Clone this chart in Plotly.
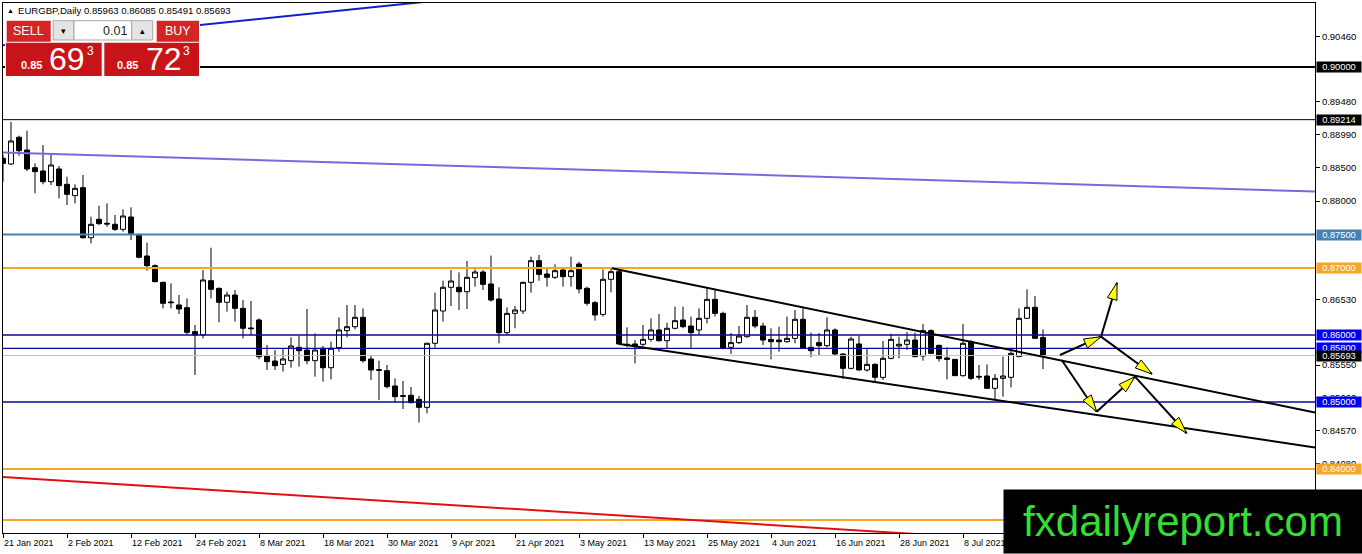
import math
import plotly.graph_objects as go

# ---------------- data ----------------
opens = [0.88637,0.88552,0.88951,0.88761,0.88497,0.88448,0.88288,0.88478,0.88249,0.88080,
         0.88199,0.87452,0.87727,0.87667,0.87652,0.87577,0.87761,0.87492,0.87179,0.87035,
         0.86786,0.86493,0.86448,0.86408,0.86050,0.86000,0.86811,0.86697,0.86488,0.86597,
         0.86398,0.86105,0.86224,0.85687,0.85612,0.85562,0.85617,0.85816,0.85776,0.85617,
         0.85801,0.85512,0.85811,0.86065,0.86124,0.86264,0.85642,0.85483,0.85468,0.85239,
         0.85095,0.85100,0.85040,0.84920,0.85876,0.86358,0.86712,0.86712,0.86646,0.86856,
         0.86940,0.86761,0.86537,0.86035,0.86323,0.86358,0.86786,0.87109,0.86910,0.86861,
         0.86970,0.86871,0.87060,0.86697,0.86483,0.86308,0.86831,0.86945,0.85861,0.85866,
         0.85861,0.85935,0.86075,0.85915,0.86100,0.86224,0.86134,0.86075,0.86249,0.86532,
         0.86323,0.85816,0.85886,0.85975,0.86264,0.86134,0.85935,0.85925,0.85900,0.85950,
         0.86234,0.85816,0.85886,0.85841,0.86075,0.85716,0.85502,0.85866,0.85478,0.85562,
         0.85368,0.85652,0.85836,0.85861,0.85925,0.85687,0.86065,0.85846,0.85657,0.85637,
         0.85393,0.85900,0.85383,0.85388,0.85204,0.85353,0.85368,0.85677,0.86249,0.86413,
         0.85963]
highs = [0.88690,0.89180,0.88975,0.89049,0.88562,0.88836,0.88697,0.88522,0.88363,0.88249,
         0.88388,0.87766,0.87930,0.87965,0.87791,0.87876,0.87905,0.87517,0.87378,0.87055,
         0.86796,0.86771,0.86597,0.86547,0.86149,0.86970,0.87303,0.86707,0.86646,0.86672,
         0.86522,0.86507,0.86249,0.85850,0.85776,0.85801,0.85965,0.85990,0.86388,0.86025,
         0.85836,0.85901,0.86264,0.86448,0.86448,0.86398,0.85701,0.85617,0.85552,0.85353,
         0.85313,0.85224,0.85090,0.85886,0.86632,0.86810,0.86970,0.86935,0.87104,0.86980,
         0.86970,0.87184,0.86712,0.86413,0.86433,0.86796,0.87169,0.87194,0.87005,0.87055,
         0.87005,0.87169,0.87094,0.86721,0.86507,0.86980,0.87005,0.86980,0.86114,0.85925,
         0.86149,0.86249,0.86313,0.86184,0.86423,0.86423,0.86274,0.86398,0.86697,0.86672,
         0.86348,0.86030,0.86134,0.86448,0.86373,0.86184,0.86100,0.86124,0.86274,0.86373,
         0.86398,0.86035,0.86030,0.86264,0.86100,0.85726,0.85975,0.85990,0.85796,0.85577,
         0.85910,0.86020,0.85975,0.86045,0.86035,0.86164,0.86085,0.85856,0.85816,0.85642,
         0.86164,0.85925,0.85552,0.85562,0.85418,0.85677,0.85801,0.86398,0.86682,0.86582,
         0.86085]
lows = [0.88288,0.88537,0.88676,0.88448,0.88115,0.88249,0.88239,0.88040,0.87940,0.87965,
        0.87440,0.87368,0.87642,0.87617,0.87552,0.87542,0.87418,0.87144,0.86960,0.86786,
        0.86398,0.86398,0.86313,0.86010,0.85403,0.85950,0.86547,0.86189,0.86348,0.86199,
        0.85950,0.86000,0.85637,0.85478,0.85478,0.85453,0.85512,0.85527,0.85562,0.85378,
        0.85303,0.85338,0.85751,0.85965,0.86085,0.85587,0.85328,0.85030,0.85204,0.84990,
        0.84896,0.84980,0.84692,0.84831,0.85811,0.86199,0.86433,0.86373,0.86388,0.86721,
        0.86672,0.86497,0.85876,0.86000,0.86100,0.86313,0.86632,0.86810,0.86721,0.86836,
        0.86721,0.86721,0.86622,0.86438,0.86214,0.86274,0.86637,0.85850,0.85816,0.85577,
        0.85826,0.85901,0.85901,0.85801,0.86085,0.86100,0.85801,0.86000,0.86174,0.86274,
        0.85786,0.85716,0.85866,0.85960,0.86100,0.85851,0.85637,0.85751,0.85886,0.85876,
        0.85791,0.85667,0.85701,0.85816,0.85701,0.85343,0.85488,0.85468,0.85453,0.85303,
        0.85328,0.85637,0.85652,0.85776,0.85667,0.85617,0.85716,0.85602,0.85338,0.85388,
        0.85378,0.85328,0.85328,0.85194,0.85030,0.85080,0.85219,0.85667,0.86239,0.85940,
        0.85491]
closes = [0.88562,0.88896,0.88751,0.88478,0.88438,0.88288,0.88537,0.88229,0.88100,0.88189,
          0.87452,0.87652,0.87662,0.87657,0.87577,0.87776,0.87517,0.87160,0.87035,0.86796,
          0.86473,0.86483,0.86388,0.86040,0.86000,0.86821,0.86682,0.86488,0.86597,0.86398,
          0.86100,0.86095,0.85676,0.85602,0.85542,0.85642,0.85836,0.85766,0.85617,0.85776,
          0.85512,0.85801,0.86075,0.86124,0.86264,0.85617,0.85478,0.85473,0.85229,0.85080,
          0.85085,0.84990,0.84920,0.85876,0.86373,0.86712,0.86806,0.86646,0.86861,0.86940,
          0.86756,0.86522,0.86035,0.86323,0.86373,0.86786,0.87109,0.86905,0.86861,0.86960,
          0.86871,0.86960,0.86687,0.86473,0.86299,0.86831,0.86945,0.85866,0.85846,0.85836,
          0.85935,0.86075,0.85915,0.86100,0.86214,0.86124,0.86035,0.86249,0.86532,0.86323,
          0.85801,0.85886,0.85985,0.86264,0.86134,0.85925,0.85900,0.85900,0.85950,0.86234,
          0.85801,0.85766,0.85841,0.86075,0.85716,0.85502,0.85940,0.85478,0.85562,0.85368,
          0.85652,0.85935,0.85861,0.85925,0.85677,0.86065,0.85726,0.85647,0.85637,0.85393,
          0.85876,0.85353,0.85373,0.85204,0.85353,0.85388,0.85726,0.86249,0.86413,0.85950,
          0.85693]

date_labels = ["21 Jan 2021", "2 Feb 2021", "12 Feb 2021", "24 Feb 2021", "8 Mar 2021",
               "18 Mar 2021", "30 Mar 2021", "9 Apr 2021", "21 Apr 2021", "3 May 2021",
               "13 May 2021", "25 May 2021", "4 Jun 2021", "16 Jun 2021", "28 Jun 2021",
               "8 Jul 2021"]
date_step = 8

price_ticks = [0.90460, 0.89480, 0.88990, 0.88500, 0.88000, 0.86530, 0.85550, 0.85060, 0.84570, 0.84080]
price_tick_text = ["0.90460", "0.89480", "0.88990", "0.88500", "0.88000", "0.86530", "0.85550",
                   "0.85060", "0.84570", "0.84080"]

# horizontal levels: value, line colour, width, label box colour (None = no box)
level_values = [0.90000, 0.89214, 0.87500, 0.87000, 0.86000, 0.85800, 0.85000, 0.84000, 0.83240]
level_line_colors = ["#000000", "#000000", "#4682B4", "#F5A623", "#0A0A9A", "#0A0A9A", "#0A0A9A", "#F5A623", "#F5A623"]
level_widths = [2, 1, 2, 2, 1.3, 1.3, 1.3, 2, 2]
level_box_colors = ["#000000", "#000000", "#4682B4", "#F5A623", "#0000F0", "#0000F0", "#0000F0", "#F5A623", None]
bid_price = 0.85693
header = "EURGBP,Daily 0.85963 0.86085 0.85491 0.85693"

# sloped lines: (bar, price) end points
purple_line = [(0, 0.88724), (164, 0.88142)]
blue_line = [(0, 0.90324), (60, 0.91062)]
red_line = [(0, 0.83881), (164, 0.82657)]
channel_upper = [(76.1, 0.86996), (164, 0.84843)]
channel_lower = [(77.07, 0.85866), (164, 0.84321)]

# forecast arrows (bar, price): start -> end
arrows = [
    [(132.12, 0.85702), (137.25, 0.85975)],
    [(137.25, 0.85975), (139.25, 0.86781)],
    [(137.25, 0.85975), (143.62, 0.85418)],
    [(132.34, 0.85627), (136.71, 0.84855)],
    [(136.71, 0.84855), (141.50, 0.85378)],
    [(141.50, 0.85378), (147.96, 0.84533)],
]

# ---------------- layout geometry ----------------
W, H = 1362, 554
PL, PT, PR, PB = 3, 3, 1315, 533
PW, PH = PR - PL, PB - PT
X_RANGE = [0, 164]
Y_RANGE = [0.85 - 131 / 6700, 0.85 + 399 / 6700]
FONT = "Liberation Sans, Arial, sans-serif"


def to_px(b, p):
    x = PL + (b - X_RANGE[0]) / (X_RANGE[1] - X_RANGE[0]) * PW
    y = PT + (Y_RANGE[1] - p) / (Y_RANGE[1] - Y_RANGE[0]) * PH
    return x, y


def from_px(x, y):
    b = X_RANGE[0] + (x - PL) / PW * (X_RANGE[1] - X_RANGE[0])
    p = Y_RANGE[1] - (y - PT) / PH * (Y_RANGE[1] - Y_RANGE[0])
    return b, p


def px_paper(x, y):
    return (x - PL) / PW, (PB - y) / PH


bars = list(range(len(opens)))

fig = go.Figure()
fig.add_trace(go.Candlestick(
    x=bars, open=opens, high=highs, low=lows, close=closes,
    increasing=dict(fillcolor="white", line=dict(color="black", width=1)),
    decreasing=dict(fillcolor="black", line=dict(color="black", width=1)),
    whiskerwidth=0, showlegend=False, hoverinfo="skip"))


def add_line(points, color, width):
    fig.add_trace(go.Scatter(x=[p[0] for p in points], y=[p[1] for p in points], mode="lines",
                             line=dict(color=color, width=width), showlegend=False, hoverinfo="skip"))


add_line([(X_RANGE[0], bid_price), (X_RANGE[1], bid_price)], "#C0C0C0", 1)
for v, c, w in zip(level_values, level_line_colors, level_widths):
    add_line([(X_RANGE[0], v), (X_RANGE[1], v)], c, w)
add_line(purple_line, "#7B68DD", 2)
add_line(blue_line, "#1020C8", 2)
add_line(red_line, "#E01010", 2)
add_line(channel_upper, "#000000", 2)
add_line(channel_lower, "#000000", 2)

# arrows
ax, ay, hx, hy = [], [], [], []
for (s, e) in arrows:
    ax += [s[0], e[0], None]
    ay += [s[1], e[1], None]
    sx, sy = to_px(*s)
    ex, ey = to_px(*e)
    L = math.hypot(ex - sx, ey - sy)
    ux, uy = (ex - sx) / L, (ey - sy) / L
    nx, ny = -uy, ux
    bx, by = ex - 17 * ux, ey - 17 * uy
    for (px_, py_) in [(ex, ey), (bx + 5 * nx, by + 5 * ny), (bx - 5 * nx, by - 5 * ny), (ex, ey)]:
        b, p = from_px(px_, py_)
        hx.append(b)
        hy.append(p)
    hx.append(None)
    hy.append(None)
fig.add_trace(go.Scatter(x=ax, y=ay, mode="lines", line=dict(color="black", width=2),
                         showlegend=False, hoverinfo="skip"))
fig.add_trace(go.Scatter(x=hx, y=hy, mode="lines", fill="toself", fillcolor="#FFFF00",
                         line=dict(color="black", width=1), showlegend=False, hoverinfo="skip"))

shapes = []
annotations = []


def rect(x0, y0, x1, y1, fill, line=None):
    a0, b0 = px_paper(x0, y1)
    a1, b1 = px_paper(x1, y0)
    shapes.append(dict(type="rect", xref="paper", yref="paper", x0=a0, y0=b0, x1=a1, y1=b1,
                       fillcolor=fill, line=dict(color=line or fill, width=1 if line else 0),
                       layer="above"))


def text(x, y, s, size, color="black", anchor="left", bold=False, family=FONT):
    a, b = px_paper(x, y)
    if bold:
        s = "<b>" + s + "</b>"
    annotations.append(dict(xref="paper", yref="paper", x=a, y=b, text=s, showarrow=False,
                            xanchor=anchor, yanchor="middle", borderpad=0,
                            font=dict(family=family, size=size, color=color)))


# trade panel
rect(5, 19, 200, 77, "white")
rect(6.7, 20.7, 50.7, 41.7, "#D42424")
rect(53.3, 20.7, 74, 40, "#E4E4E4", "#A8A8A8")
rect(74, 20.7, 131.7, 40, "#FFFFFF", "#A8A8A8")
rect(131.7, 20.7, 152.7, 40, "#E4E4E4", "#A8A8A8")
rect(156.7, 20.7, 199, 41.7, "#D42424")
rect(6, 42.7, 101.7, 76, "#C81418")
rect(104.3, 42.7, 199, 76, "#C81418")
text(28.7, 31, "SELL", 12.5, "white", "center")
text(177.8, 31, "BUY", 12.5, "white", "center")
text(63.7, 30.5, "▾", 9, "black", "center")
text(142.2, 30.5, "▴", 9, "black", "center")
text(128, 30.5, "0.01", 12.5, "#222222", "right")
text(19.5, 65, "0.85", 11, "white", "left", bold=True)
text(48, 59, "69", 32, "white", "left")
text(86, 50.5, "3", 12, "white", "left")
text(116.5, 65, "0.85", 11, "white", "left", bold=True)
text(145, 59, "72", 32, "white", "left")
text(182, 50.5, "3", 12, "white", "left")
text(6, 11, "▲", 7, "black", "left")
text(17, 11, header, 9.6, "black", "left")

# date labels under the time axis
for i, lab in enumerate(date_labels):
    a, b = px_paper(0, 543)
    annotations.append(dict(xref="x", yref="paper", x=i * date_step, y=b, text=lab, showarrow=False,
                            xanchor="left", yanchor="middle", xshift=-1,
                            font=dict(family=FONT, size=9, color="black")))

# price boxes on the right axis
box_x, _ = px_paper(1316, 0)


def price_box(v, color):
    annotations.append(dict(xref="paper", yref="y", x=box_x, y=v, text="%.5f" % v, showarrow=False,
                            xanchor="left", yanchor="middle", bgcolor=color, borderpad=0, width=44,
                            font=dict(family=FONT, size=9.3, color="white")))


for v, c in zip(level_values, level_box_colors):
    if c is not None and v not in (0.85800,):
        price_box(v, c)
price_box(0.85800, "#0000F0")
price_box(bid_price, "#000000")

# watermark
wx, wy = px_paper(1183, 521.5)
annotations.append(dict(xref="paper", yref="paper", x=wx, y=wy, text="fxdailyreport.com",
                        showarrow=False, xanchor="center", yanchor="middle", width=358, height=63,
                        bgcolor="#000000", borderpad=0,
                        font=dict(family=FONT, size=42, color="#33DD33")))

fig.update_layout(
    width=W, height=H,
    margin=dict(l=PL, r=W - PR, t=PT, b=H - PB, pad=0),
    paper_bgcolor="white", plot_bgcolor="white",
    hovermode=False, showlegend=False,
    boxgap=0.38, boxgroupgap=0,
    shapes=shapes, annotations=annotations,
    xaxis=dict(range=X_RANGE, rangeslider=dict(visible=False), showgrid=False, zeroline=False,
               tickmode="array", tickvals=[i * date_step for i in range(len(date_labels) + 1)],
               showticklabels=False, ticks="outside", ticklen=4, tickcolor="black",
               showline=True, linecolor="black", linewidth=1, mirror=True, automargin=False),
    yaxis=dict(range=Y_RANGE, side="right", showgrid=False, zeroline=False,
               tickmode="array", tickvals=price_ticks, ticktext=price_tick_text,
               ticks="outside", ticklen=4, tickcolor="black",
               tickfont=dict(family=FONT, size=9.5, color="black"),
               showline=True, linecolor="black", linewidth=1, mirror=True, automargin=False),
)

fig.write_html("out.html", config={"displayModeBar": False},
               post_script="document.body.style.margin='0';document.body.style.overflow='hidden';")
